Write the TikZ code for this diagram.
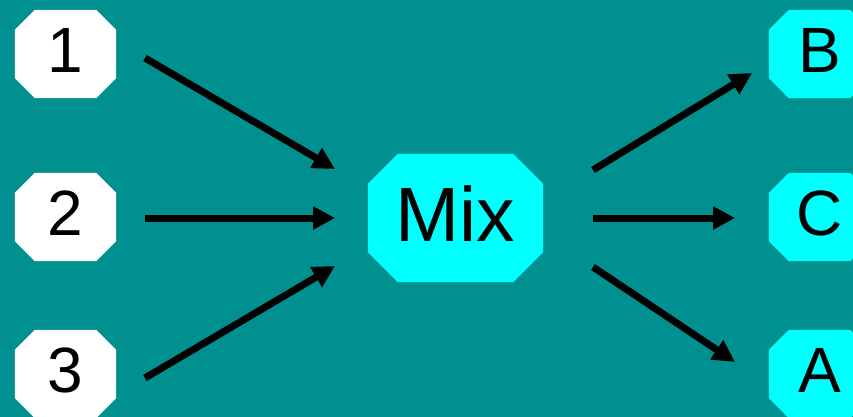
\documentclass[tikz,border=0pt]{standalone}
\usepackage{fontspec}
\setmainfont{Liberation Sans}
\usetikzlibrary{arrows.meta,calc}
\definecolor{bgteal}{RGB}{0,144,144}
\definecolor{boxcyan}{RGB}{0,255,255}
\tikzset{
  oct/.style={rectangle, minimum width=101pt, minimum height=88pt, inner sep=0pt, draw=none,
    font=\fontsize{64}{64}\selectfont},
  mixbox/.style={rectangle, minimum width=175pt, minimum height=128pt, inner sep=0pt, draw=none,
    font=\fontsize{77}{77}\selectfont},
  lbl/.style={yshift=4pt},
  arr/.style={line width=7pt, -{Triangle[length=22pt,width=22pt]}, black},
}
% fill an octagon on a node's box: #1 node, #2 chamfer, #3 colour
\newcommand\octfill[3]{%
  \fill[#3] ($(#1.north west)+(#2,0)$) -- ($(#1.north east)+(-#2,0)$) --
    ($(#1.north east)+(0,#2)$) -- ($(#1.south east)+(0,-#2)$) --
    ($(#1.south east)+(-#2,0)$) -- ($(#1.south west)+(#2,0)$) --
    ($(#1.south west)+(0,-#2)$) -- ($(#1.north west)+(0,#2)$) -- cycle;}
\begin{document}
\begin{tikzpicture}[x=1pt,y=-1pt]
\fill[bgteal] (0,0) rectangle (853,417);
\useasboundingbox (0,0) rectangle (853,417);
\begin{scope}
\clip (0,0) rectangle (853,417);
\path
  (65.5,54) node[oct] (n1) {\phantom{1}}
  (65.5,217) node[oct] (n2) {\phantom{2}}
  (65.5,374) node[oct] (n3) {\phantom{3}}
  (455.5,218) node[mixbox] (mix) {\phantom{Mix}}
  (819.5,54) node[oct] (nB) {\phantom{B}}
  (819.5,217) node[oct] (nC) {\phantom{C}}
  (819.5,374) node[oct] (nA) {\phantom{A}};
\octfill{n1}{20}{white}
\octfill{n2}{20}{white}
\octfill{n3}{20}{white}
\octfill{mix}{30}{boxcyan}
\octfill{nB}{20}{boxcyan}
\octfill{nC}{20}{boxcyan}
\octfill{nA}{20}{boxcyan}
\node[oct,lbl] at (n1) {1};
\node[oct,lbl] at (n2) {2};
\node[oct,lbl] at (n3) {3};
\node[mixbox,lbl] at (mix) {Mix};
\node[oct,lbl] at (nB) {B};
\node[oct,lbl] at (nC) {C};
\node[oct,lbl] at (nA) {A};
\end{scope}
\coordinate (s1) at (145,58);
\coordinate (e1) at (335,169);
\coordinate (s2) at (145,218);
\coordinate (e2) at (335,218);
\coordinate (s3) at (145,378);
\coordinate (e3) at (335,266);
\coordinate (sB) at (593,170);
\coordinate (eB) at (752,73);
\coordinate (sC) at (593,218);
\coordinate (eC) at (735,218);
\coordinate (sA) at (593,267);
\coordinate (eA) at (735,362);
\draw[arr] (s1) -- (e1);
\draw[arr] (s2) -- (e2);
\draw[arr] (s3) -- (e3);
\draw[arr] (sB) -- (eB);
\draw[arr] (sC) -- (eC);
\draw[arr] (sA) -- (eA);
\end{tikzpicture}
\end{document}
